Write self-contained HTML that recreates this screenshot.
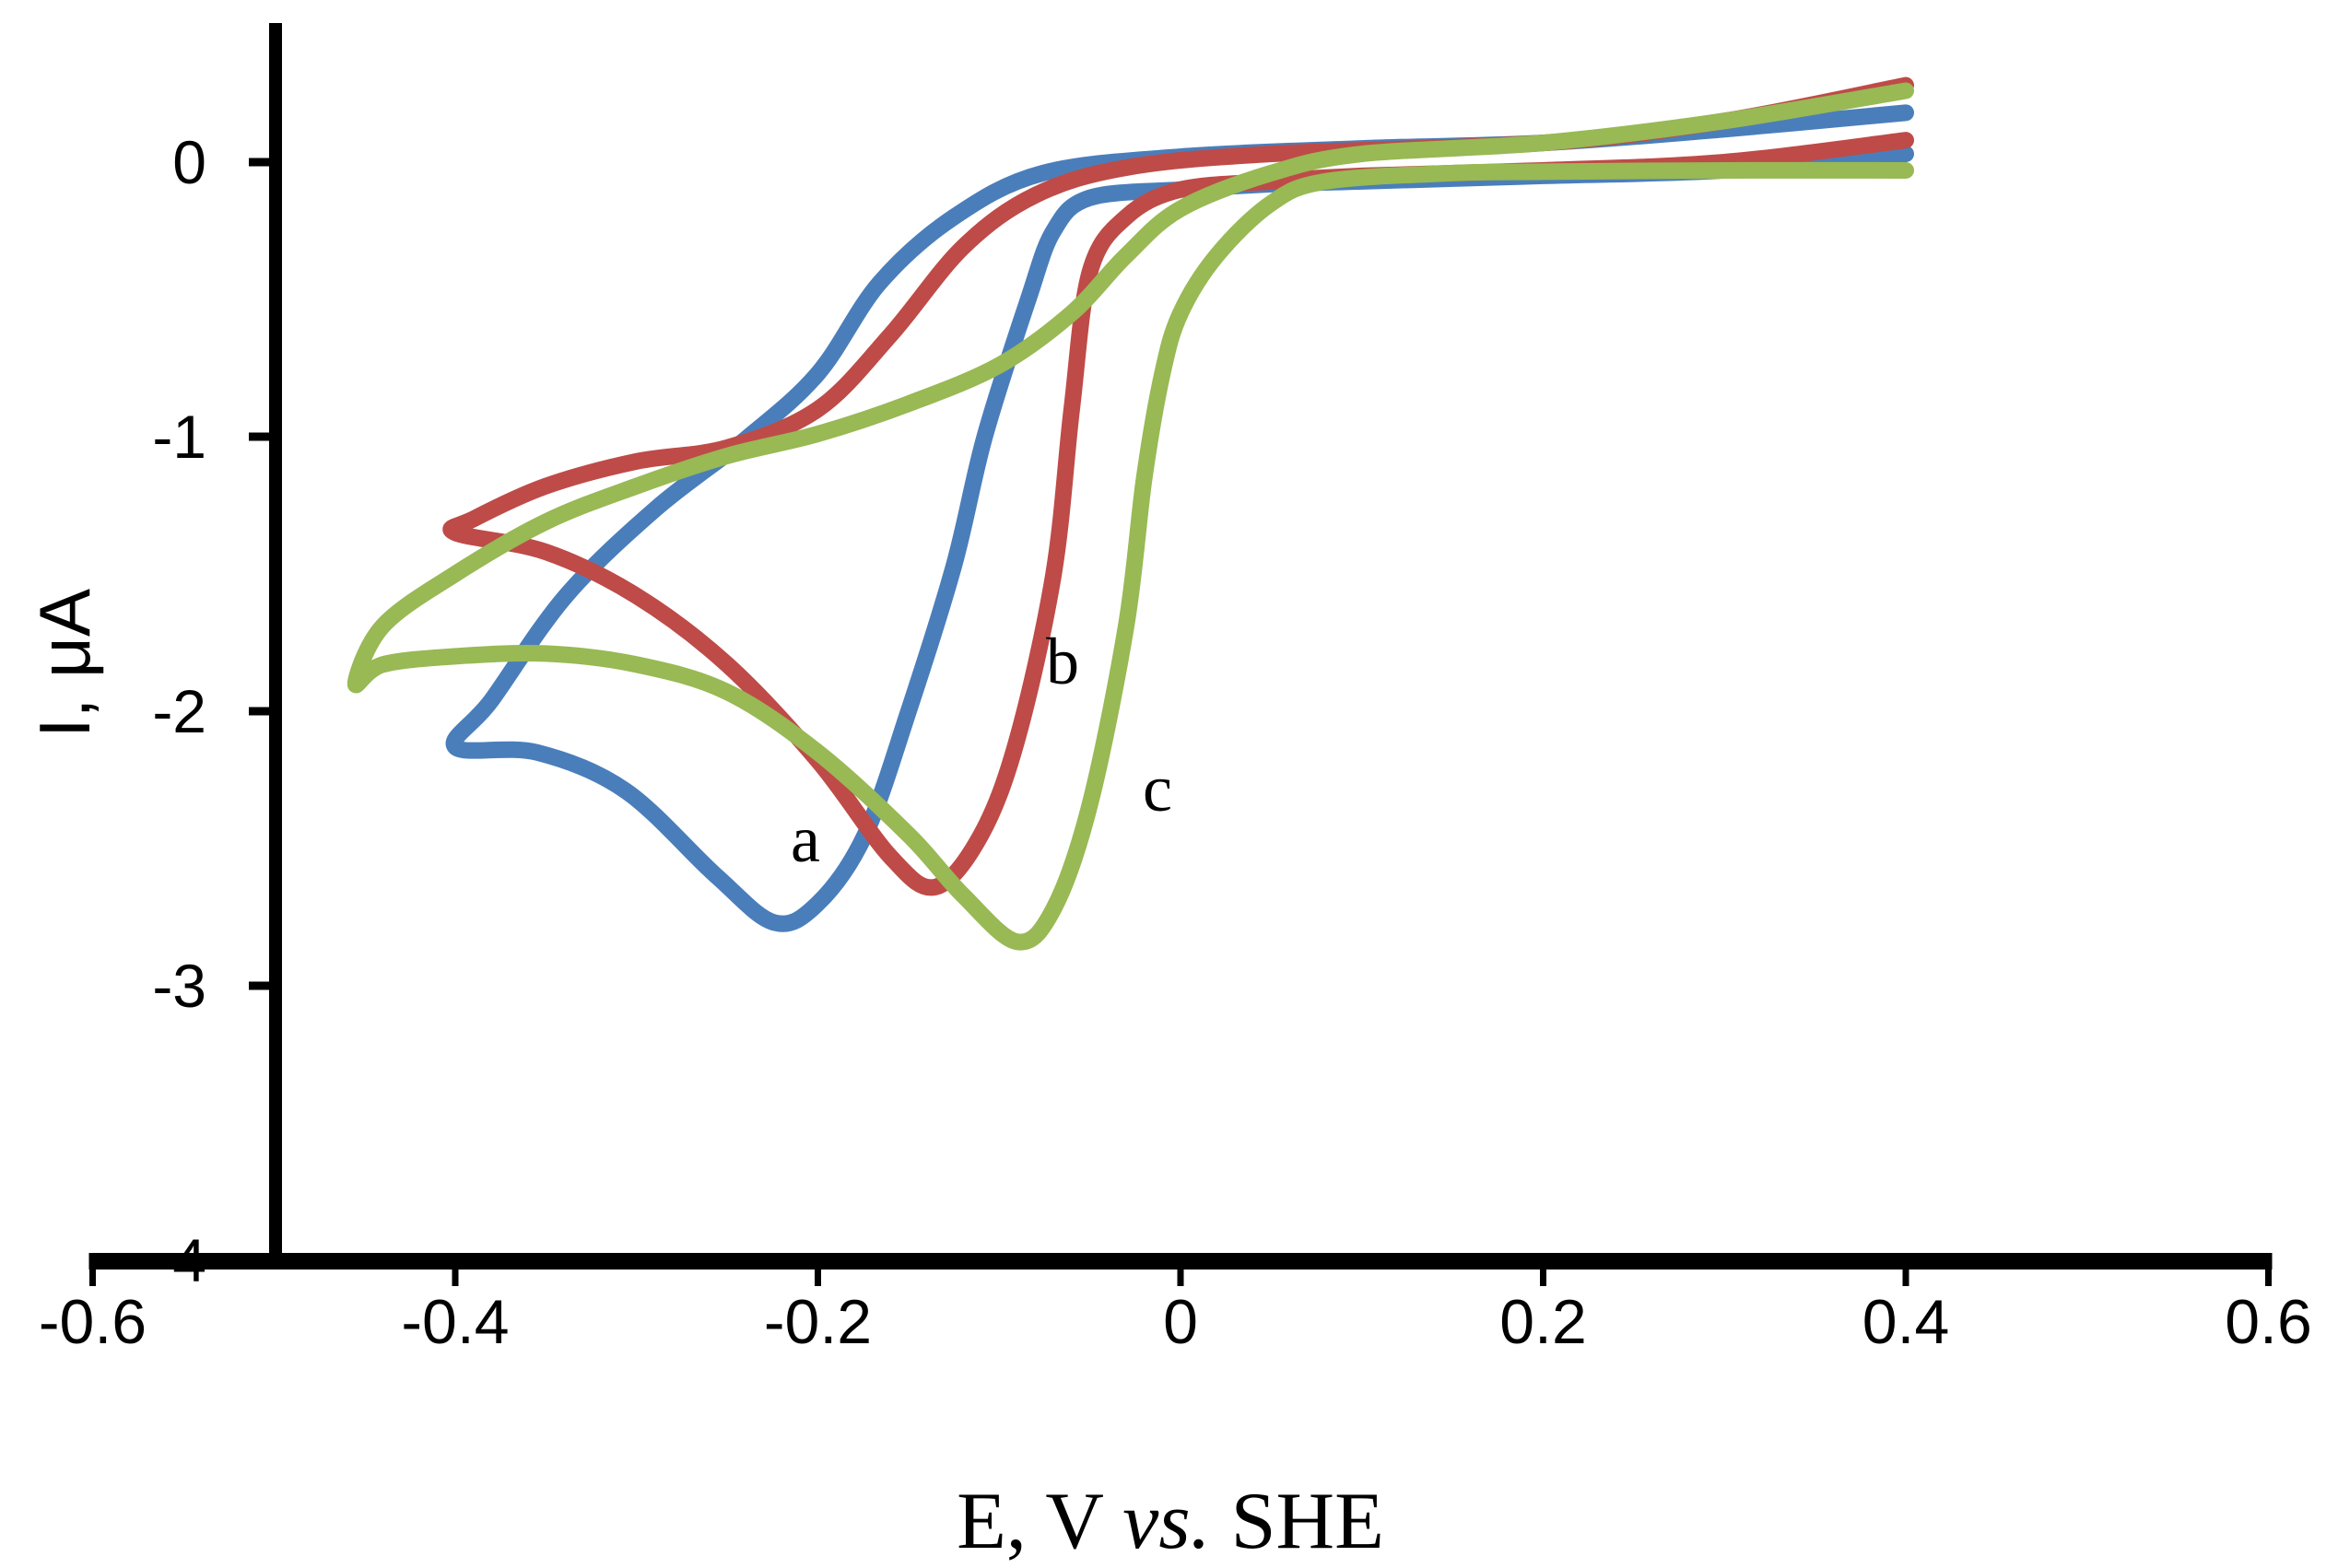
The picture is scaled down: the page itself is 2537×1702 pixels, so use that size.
<!DOCTYPE html>
<html><head><meta charset="utf-8"><style>
html,body{margin:0;padding:0;background:#fff;}
svg{display:block;}
</style></head><body>
<svg id="chart" width="2537" height="1702" viewBox="0 0 2537 1702" xmlns="http://www.w3.org/2000/svg">
<rect width="2537" height="1702" fill="#fff"/>
<g id="axes"></g>
<g id="series"></g>
<text x="1270" y="1680" text-anchor="middle" font-family="'Liberation Serif',serif" font-size="88">E, V <tspan font-style="italic">vs.</tspan> SHE</text>
<text transform="translate(97,720) rotate(-90)" text-anchor="middle" font-family="'Liberation Sans',sans-serif" font-size="78">I, μA</text>
<text x="874" y="935" text-anchor="middle" font-family="'Liberation Serif',serif" font-size="72">a</text>
<text x="1153" y="742" text-anchor="middle" font-family="'Liberation Serif',serif" font-size="72">b</text>
<text x="1256" y="880" text-anchor="middle" font-family="'Liberation Serif',serif" font-size="72">c</text>
</svg>
<script>
const xTicks = [-0.6,-0.4,-0.2,0,0.2,0.4,0.6];
const xTickLabels = ["-0.6","-0.4","-0.2","0","0.2","0.4","0.6"];
const yTicks = [0,-1,-2,-3,-4];
const yTickLabels = ["0","-1","-2","-3","-4"];
// curve a (blue): cathodic (lower) branch then anodic (upper) return
const aE = [0.4,0.3,0.2,0.1,0.05,0,-0.05,-0.07,-0.084,-0.108,-0.125,-0.15,-0.174,-0.2,-0.224,-0.256,-0.306,-0.355,-0.4,-0.38,-0.339,-0.289,-0.24,-0.2,-0.166,-0.125,-0.076,0,0.1,0.2,0.3,0.4];
const aI = [0.03,-0.03,-0.05,-0.07,-0.08,-0.1,-0.13,-0.25,-0.5,-1.0,-1.47,-2.0,-2.45,-2.7,-2.77,-2.6,-2.29,-2.15,-2.13,-1.96,-1.58,-1.26,-1.01,-0.77,-0.44,-0.2,-0.04,0.02,0.05,0.07,0.12,0.18];
// curve b (red)
const bE = [0.4,0.3,0.2,0.1,0.05,0,-0.03,-0.05,-0.06,-0.07,-0.09,-0.11,-0.135,-0.16,-0.2,-0.25,-0.3,-0.35,-0.4,-0.39,-0.35,-0.3,-0.25,-0.2,-0.16,-0.12,-0.08,-0.03,0.05,0.2,0.3,0.4];
const bI = [0.08,0.0,-0.03,-0.05,-0.07,-0.1,-0.2,-0.4,-0.9,-1.5,-2.1,-2.45,-2.64,-2.53,-2.18,-1.83,-1.58,-1.42,-1.35,-1.3,-1.18,-1.09,-1.04,-0.9,-0.63,-0.31,-0.12,-0.02,0.03,0.07,0.15,0.28];
// curve c (green)
const cE = [0.4,0.3,0.2,0.15,0.08,0.05,0.02,0,-0.01,-0.02,-0.03,-0.05,-0.07,-0.09,-0.12,-0.15,-0.2,-0.25,-0.3,-0.35,-0.4,-0.44,-0.455,-0.44,-0.4,-0.35,-0.3,-0.25,-0.2,-0.15,-0.1,-0.06,-0.03,0,0.05,0.1,0.2,0.3,0.4];
const cI = [-0.03,-0.03,-0.035,-0.04,-0.07,-0.15,-0.34,-0.55,-0.77,-1.15,-1.69,-2.34,-2.72,-2.84,-2.67,-2.45,-2.15,-1.93,-1.83,-1.79,-1.8,-1.83,-1.9,-1.69,-1.5,-1.31,-1.18,-1.07,-0.99,-0.88,-0.74,-0.55,-0.34,-0.17,-0.04,0.03,0.07,0.15,0.26];

const NS = "http://www.w3.org/2000/svg";
const X0 = 1281, XPX = 1967.5; // px per volt
const Y0 = 176, YPX = 298;     // px per µA
function sx(e){ return X0 + e*XPX; }
function sy(i){ return Y0 - i*YPX; }
function mk(tag, attrs, parent){ const el=document.createElementNS(NS,tag); for(const k in attrs) el.setAttribute(k,attrs[k]); parent.appendChild(el); return el; }

const axes = document.getElementById('axes');
let yl = mk('line',{x1:299,y1:25,x2:299,y2:1378,stroke:'#000','stroke-width':14},axes);


let xl = mk('line',{x1:sx(-0.6)-4,y1:1369,x2:sx(0.6)+4,y2:1369,stroke:'#000','stroke-width':18},axes);


xTicks.forEach((v,k)=>{
  const t = mk('line',{x1:sx(v),y1:1360,x2:sx(v),y2:1396,stroke:'#000','stroke-width':7},axes);
  
  
  const tx = mk('text',{x:sx(v),y:1458,'text-anchor':'middle','font-family':"'Liberation Sans',sans-serif",'font-size':68},axes);
  tx.textContent = xTickLabels[k];
  
  
});
yTicks.forEach((v,k)=>{
  const t = mk('line',{x1:270,y1:sy(v),x2:299,y2:sy(v),stroke:'#000','stroke-width':9},axes);
  
  
  const tx = mk('text',{x:224,y:sy(v)+23,'text-anchor':'end','font-family':"'Liberation Sans',sans-serif",'font-size':66},axes);
  tx.textContent = yTickLabels[k];
  
  
});

function smoothPath(E,I){
  const p = E.map((e,k)=>[sx(e),sy(I[k])]);
  let d = `M${p[0][0]},${p[0][1]}`;
  for(let k=0;k<p.length-1;k++){
    const p0=p[Math.max(0,k-1)], p1=p[k], p2=p[k+1], p3=p[Math.min(p.length-1,k+2)];
    const c1=[p1[0]+(p2[0]-p0[0])/6, p1[1]+(p2[1]-p0[1])/6];
    const c2=[p2[0]-(p3[0]-p1[0])/6, p2[1]-(p3[1]-p1[1])/6];
    d += ` C${c1[0]},${c1[1]} ${c2[0]},${c2[1]} ${p2[0]},${p2[1]}`;
  }
  return d;
}
const series = document.getElementById('series');
const defs = [[aE,aI,'#4a7ebb','curve-a'],[bE,bI,'#be4b48','curve-b'],[cE,cI,'#98b954','curve-c']];
defs.forEach(s=>{
  const path = mk('path',{d:smoothPath(s[0],s[1]),fill:'none',stroke:s[2],'stroke-width':18,'stroke-linejoin':'round','stroke-linecap':'round'},series);
  
  
});
</script>
</body></html>
